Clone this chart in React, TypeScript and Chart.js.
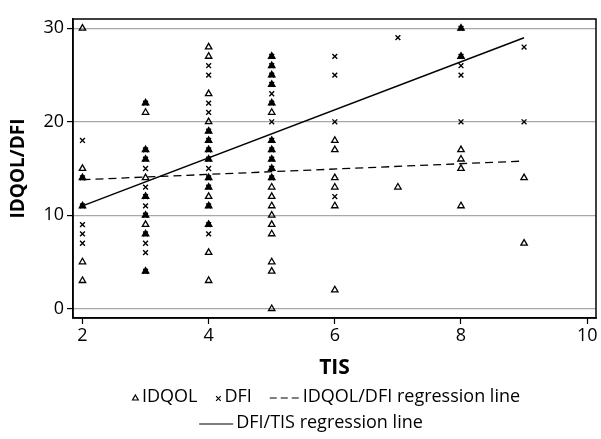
import React, { useEffect, useRef } from "react";
import { Chart, registerables } from "chart.js";

Chart.register(...registerables);

const FONT = "'Open Sans', 'DejaVu Sans', sans-serif";

// TIS levels (x) and the scores observed at each level
const tisLevels = [2, 3, 4, 5, 6, 7, 8, 9];
const idqolScores = [
  [30, 15, 14, 11, 5, 3],
  [22, 21, 17, 16, 14, 12, 10, 9, 8, 4],
  [28, 27, 23, 20, 19, 18, 17, 16, 14, 13, 12, 11, 9, 6, 3],
  [27, 26, 25, 24, 22, 21, 18, 17, 16, 15, 14, 13, 12, 11, 10, 9, 8, 5, 4, 0],
  [18, 17, 14, 13, 11, 2],
  [13],
  [30, 27, 17, 16, 15, 11],
  [14, 7],
];
const dfiScores = [
  [18, 14, 11, 9, 8, 7],
  [22, 17, 16, 15, 13, 12, 11, 10, 8, 7, 6, 4],
  [26, 25, 22, 21, 19, 18, 17, 16, 15, 14, 13, 11, 9, 8],
  [27, 26, 25, 24, 23, 22, 20, 18, 17, 16, 15, 14],
  [27, 25, 20, 12],
  [29],
  [30, 27, 26, 25, 20],
  [28, 20],
];

// regression line end points
const idqolDfiLineX = [2, 9];
const idqolDfiLineY = [13.8, 15.8];
const dfiTisLineX = [2, 9];
const dfiTisLineY = [11, 29];

const xTicks = [2, 4, 6, 8, 10];
const yTicks = [0, 10, 20, 30];

const seriesLabels = ["IDQOL", "DFI", "IDQOL/DFI regression line", "DFI/TIS regression line"];

const toPoints = (levels: number[], groups: number[][]) =>
  levels.flatMap((x, i) => groups[i].map((y) => ({ x, y })));

const dfiPoints = toPoints(tisLevels, dfiScores);
const overlapsDfi = (p: { x: number; y: number }) => dfiPoints.some((d) => d.x === p.x && d.y === p.y);

const framePlugin = {
  id: "frame",
  afterDraw(chart: any) {
    const { ctx, chartArea } = chart;
    ctx.save();
    ctx.strokeStyle = "#000";
    ctx.lineWidth = 1.5;
    ctx.strokeRect(chartArea.left, chartArea.top, chartArea.right - chartArea.left, chartArea.bottom - chartArea.top);
    ctx.restore();
  },
};

const legendPlugin = {
  id: "customLegend",
  afterDraw(chart: any) {
    const ctx = chart.ctx as CanvasRenderingContext2D;
    const labels = chart.data.datasets.map((d: any) => d.label);
    ctx.save();
    ctx.font = `18px ${FONT}`;
    ctx.fillStyle = "#000";
    ctx.strokeStyle = "#000";
    ctx.textBaseline = "middle";
    ctx.textAlign = "left";

    const drawRow = (items: { kind: string; text: string }[], y: number, cx: number) => {
      const markW: Record<string, number> = { tri: 7, cross: 6, dash: 30, line: 34 };
      const gapMT = 3;
      const gapItems = 18;
      const widths = items.map((it) => markW[it.kind] + gapMT + ctx.measureText(it.text).width);
      const total = widths.reduce((a, b) => a + b, 0) + gapItems * (items.length - 1);
      let x = cx - total / 2;
      items.forEach((it, i) => {
        const w = markW[it.kind];
        ctx.lineWidth = 1.2;
        ctx.setLineDash([]);
        if (it.kind === "tri") {
          const r = 3.3;
          const mx = x + w / 2;
          const my = y + 3;
          ctx.beginPath();
          ctx.moveTo(mx, my - 1.5 * r);
          ctx.lineTo(mx + (Math.sqrt(3) / 2) * r, my);
          ctx.lineTo(mx - (Math.sqrt(3) / 2) * r, my);
          ctx.closePath();
          ctx.stroke();
        } else if (it.kind === "cross") {
          const mx = x + w / 2;
          const my = y + 1.5;
          const h = 2.3;
          ctx.beginPath();
          ctx.moveTo(mx - h, my - h);
          ctx.lineTo(mx + h, my + h);
          ctx.moveTo(mx + h, my - h);
          ctx.lineTo(mx - h, my + h);
          ctx.stroke();
        } else {
          if (it.kind === "dash") ctx.setLineDash([7, 4]);
          ctx.beginPath();
          ctx.moveTo(x, y + 1);
          ctx.lineTo(x + w, y + 1);
          ctx.stroke();
          ctx.setLineDash([]);
        }
        ctx.fillText(it.text, x + w + gapMT, y);
        x += widths[i] + gapItems;
      });
    };

    drawRow(
      [
        { kind: "tri", text: labels[0] },
        { kind: "cross", text: labels[1] },
        { kind: "dash", text: labels[2] },
      ],
      397,
      326
    );
    drawRow([{ kind: "line", text: labels[3] }], 423, 311);
    ctx.restore();
  },
};

export default function App() {
  const ref = useRef<HTMLCanvasElement | null>(null);

  useEffect(() => {
    if (!ref.current) return;
    const chart = new Chart(ref.current, {
      type: "scatter",
      data: {
        datasets: [
          {
            label: seriesLabels[0],
            data: toPoints(tisLevels, idqolScores),
            pointStyle: "triangle",
            pointRadius: 3.7,
            pointHoverRadius: 3.7,
            borderColor: "#000",
            backgroundColor: (c: any) => (c.raw && overlapsDfi(c.raw) ? "#000" : "rgba(0,0,0,0)"),
            borderWidth: 1.3,
          },
          {
            label: seriesLabels[1],
            data: dfiPoints,
            pointStyle: "crossRot",
            pointRadius: 3.4,
            pointHoverRadius: 3.4,
            borderColor: "#000",
            backgroundColor: "#000",
            borderWidth: 1.4,
          },
          {
            label: seriesLabels[2],
            data: idqolDfiLineX.map((x, i) => ({ x, y: idqolDfiLineY[i] })),
            showLine: true,
            pointRadius: 0,
            borderColor: "#000",
            borderWidth: 1.3,
            borderDash: [8, 5],
          },
          {
            label: seriesLabels[3],
            data: dfiTisLineX.map((x, i) => ({ x, y: dfiTisLineY[i] })),
            showLine: true,
            pointRadius: 0,
            borderColor: "#000",
            borderWidth: 1.5,
          },
        ],
      },
      options: {
        animation: false,
        responsive: false,
        devicePixelRatio: 1,
        layout: { padding: { left: 0, right: 5, top: 19, bottom: 0 } },
        plugins: { legend: { display: false }, tooltip: { enabled: false } },
        scales: {
          x: {
            type: "linear",
            min: 1.85,
            max: 10.14,
            afterBuildTicks: (s: any) => {
              s.ticks = xTicks.map((v) => ({ value: v }));
            },
            afterFit: (s: any) => {
              s.height = 121;
            },
            ticks: { color: "#000", font: { family: FONT, size: 18 }, padding: 1 },
            grid: { drawOnChartArea: false, drawTicks: true, tickLength: 6, tickColor: "#000", tickWidth: 1.2 },
            border: { color: "#000", width: 1.5 },
            title: {
              display: true,
              text: "TIS",
              color: "#000",
              font: { family: FONT, size: 21, weight: "bold" },
              padding: { top: 0, bottom: 58 },
            },
          },
          y: {
            type: "linear",
            min: -1,
            max: 31,
            afterBuildTicks: (s: any) => {
              s.ticks = yTicks.map((v) => ({ value: v }));
            },
            afterFit: (s: any) => {
              s.width = 73;
            },
            ticks: { color: "#000", font: { family: FONT, size: 18 }, padding: 3 },
            grid: { color: "#a8a8a8", lineWidth: 1.2, drawTicks: true, tickLength: 6, tickColor: "#000", tickWidth: 1.2 },
            border: { color: "#000", width: 1.5 },
            title: {
              display: true,
              text: "IDQOL/DFI",
              color: "#000",
              font: { family: FONT, size: 19, weight: "bold" },
              padding: { top: 7, bottom: 0 },
            },
          },
        },
      },
      plugins: [framePlugin, legendPlugin],
    } as any);
    return () => chart.destroy();
  }, []);

  return (
    <div style={{ position: "fixed", left: 0, top: 0, width: 601, height: 439, background: "#fff" }}>
      <canvas ref={ref} width={601} height={439} style={{ display: "block" }} />
    </div>
  );
}
